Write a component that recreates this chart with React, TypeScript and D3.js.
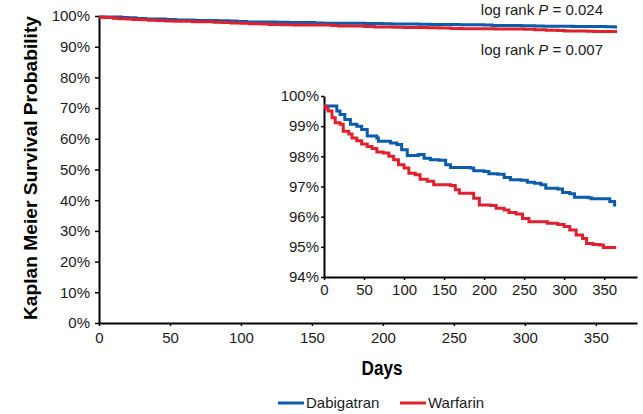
import React, { useEffect, useRef } from "react";
import * as d3 from "d3";

// Kaplan-Meier step points (day, survival %)
const dabigatranDays = [0, 12, 16, 20, 26, 33, 41, 47, 54, 66, 68, 83, 91, 97, 104, 118, 125, 133, 144, 152, 158, 183, 187, 200, 206, 217, 225, 233, 246, 254, 263, 271, 277, 292, 298, 307, 313, 330, 334, 357, 363, 365];
const dabigatranSurv = [99.67, 99.67, 99.5, 99.39, 99.22, 99.06, 99.0, 98.89, 98.67, 98.61, 98.5, 98.44, 98.39, 98.22, 98.03, 98.06, 97.94, 97.89, 97.87, 97.72, 97.63, 97.61, 97.52, 97.5, 97.42, 97.41, 97.3, 97.22, 97.21, 97.14, 97.11, 97.06, 96.94, 96.92, 96.8, 96.76, 96.64, 96.63, 96.59, 96.5, 96.39, 96.39];
const warfarinDays = [0, 2, 5, 10, 14, 20, 24, 31, 35, 41, 47, 54, 60, 66, 74, 81, 87, 93, 100, 106, 114, 120, 129, 137, 158, 164, 169, 183, 187, 194, 208, 215, 225, 231, 240, 248, 256, 273, 279, 292, 300, 307, 315, 323, 328, 336, 344, 349, 365];
const warfarinSurv = [99.67, 99.6, 99.5, 99.28, 99.11, 99.06, 98.83, 98.74, 98.61, 98.52, 98.41, 98.33, 98.26, 98.14, 98.11, 98.0, 97.89, 97.72, 97.61, 97.44, 97.39, 97.24, 97.17, 97.06, 97.03, 96.89, 96.78, 96.78, 96.61, 96.39, 96.37, 96.28, 96.22, 96.14, 96.09, 95.94, 95.83, 95.83, 95.78, 95.74, 95.67, 95.56, 95.39, 95.28, 95.11, 95.08, 95.06, 94.98, 94.98];

const mainXTicks = [0, 50, 100, 150, 200, 250, 300, 350];
const mainYTicks = [0, 10, 20, 30, 40, 50, 60, 70, 80, 90, 100];
const insetYTicks = [94, 95, 96, 97, 98, 99, 100];

const seriesNames = ["Dabigatran", "Warfarin"];
const seriesColors = ["#0b5cad", "#e0202f"];
const pValues = ["0.024", "0.007"];

const FONT = "'Liberation Sans', Arial, sans-serif";
const NARROW = "'Liberation Sans Narrow', 'Liberation Sans', Arial, sans-serif";

const App = () => {
  const svgRef = useRef<SVGSVGElement>(null);

  useEffect(() => {
    const svg = d3.select(svgRef.current);
    svg.selectAll("*").remove();

    const series = [
      dabigatranDays.map((d, i) => ({ day: d, surv: dabigatranSurv[i] })),
      warfarinDays.map((d, i) => ({ day: d, surv: warfarinSurv[i] })),
    ];

    const styleAxis = (g, size) => {
      g.select(".domain").attr("stroke", "#000").attr("stroke-width", 2);
      g.selectAll(".tick line").attr("stroke", "#000").attr("stroke-width", 1.5);
      g.selectAll(".tick text")
        .attr("fill", "#1a1a1a")
        .style("font-family", FONT)
        .style("font-size", size + "px");
    };

    // main chart
    const x = d3.scaleLinear().domain([0, 379]).range([99, 637]);
    const y = d3.scaleLinear().domain([0, 100]).range([323, 16]);

    const gx = svg.append("g").attr("transform", "translate(0,323)")
      .call(d3.axisBottom(x).tickValues(mainXTicks).tickSize(3).tickSizeOuter(0).tickPadding(6));
    styleAxis(gx, 15);
    const gy = svg.append("g").attr("transform", "translate(99,0)")
      .call(d3.axisLeft(y).tickValues(mainYTicks).tickSize(4).tickSizeOuter(0).tickPadding(5).tickFormat((d) => d + "%"));
    styleAxis(gy, 15);

    const line = d3.line<any>().x((d) => x(d.day)).y((d) => y(d.surv)).curve(d3.curveStepAfter);
    series.forEach((s, i) => {
      svg.append("path").datum(s).attr("d", line).attr("fill", "none")
        .attr("stroke", seriesColors[i]).attr("stroke-width", 3);
    });

    // log rank annotations
    [15, 55].forEach((yy, i) => {
      const t = svg.append("text").attr("x", 603).attr("y", yy).attr("text-anchor", "end")
        .style("font-family", FONT).style("font-size", "15px").attr("fill", "#1a1a1a");
      t.append("tspan").text("log rank ");
      t.append("tspan").style("font-style", "italic").text("P");
      t.append("tspan").text(" = " + pValues[i]);
    });

    // inset
    const ix = d3.scaleLinear().domain([0, 391]).range([324, 637]);
    const iy = d3.scaleLinear().domain([94, 100]).range([277, 96]);

    const igx = svg.append("g").attr("transform", "translate(0,277)")
      .call(d3.axisBottom(ix).tickValues(mainXTicks).tickSize(3).tickSizeOuter(0).tickPadding(4));
    styleAxis(igx, 15);
    const igy = svg.append("g").attr("transform", "translate(324,0)")
      .call(d3.axisLeft(iy).tickValues(insetYTicks).tickSize(3).tickSizeOuter(0).tickPadding(2).tickFormat((d) => d + "%"));
    styleAxis(igy, 15);

    const iline = d3.line<any>().x((d) => ix(d.day)).y((d) => iy(d.surv)).curve(d3.curveStepAfter);
    series.forEach((s, i) => {
      svg.append("path").datum(s).attr("d", iline).attr("fill", "none")
        .attr("stroke", seriesColors[i]).attr("stroke-width", 3);
    });

    // titles
    svg.append("text").attr("x", 382).attr("y", 375).attr("text-anchor", "middle")
      .attr("textLength", 41).attr("lengthAdjust", "spacingAndGlyphs")
      .style("font-family", NARROW).style("font-weight", "bold").style("font-size", "20px")
      .text("Days");
    svg.append("text").attr("transform", "translate(37,168) rotate(-90)").attr("text-anchor", "middle")
      .attr("textLength", 304).attr("lengthAdjust", "spacingAndGlyphs")
      .style("font-family", NARROW).style("font-weight", "bold").style("font-size", "19px")
      .text("Kaplan Meier Survival Probability");

    // legend
    const legX = [278, 400];
    seriesNames.forEach((name, i) => {
      svg.append("line").attr("x1", legX[i]).attr("x2", legX[i] + 26).attr("y1", 403).attr("y2", 403)
        .attr("stroke", seriesColors[i]).attr("stroke-width", 3);
      svg.append("text").attr("x", legX[i] + 28).attr("y", 408)
        .style("font-family", FONT).style("font-size", "15px").attr("fill", "#1a1a1a")
        .text(name);
    });
  }, []);

  return (
    <svg ref={svgRef} width={643} height={414}
      style={{ position: "absolute", left: 0, top: 0, background: "#fff" }} />
  );
};

export default App;
